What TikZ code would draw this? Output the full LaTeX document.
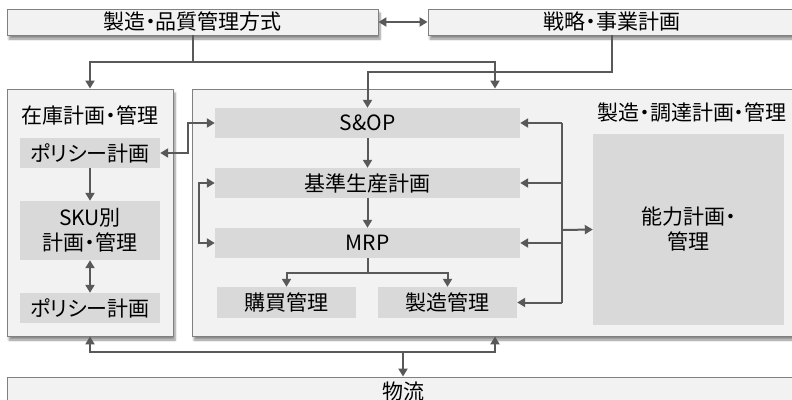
\documentclass[tikz,border=0pt]{standalone}
\usepackage{fontspec}
\setmainfont{Noto Sans CJK JP}[RawFeature=+palt]
\usetikzlibrary{arrows.meta,shadows.blur}
\definecolor{panelfill}{HTML}{F2F2F2}
\definecolor{panelline}{HTML}{808080}
\definecolor{innerfill}{HTML}{D9D9D9}
\definecolor{arrowc}{HTML}{595959}
\tikzset{
  txt/.style={font=\fontsize{21}{25}\selectfont, align=center, text=black},
  panel/.style={txt, draw=panelline, line width=0.9pt, fill=panelfill, inner sep=0pt,
    blur shadow={shadow xshift=2pt, shadow yshift=-4pt, shadow blur steps=6, shadow opacity=45}},
  innerbox/.style={txt, fill=innerfill, inner sep=0pt},
  tip/.tip={Triangle[width=9pt,length=8pt]},
  conn/.style={draw=arrowc, line width=2pt, -tip},
  conn2/.style={draw=arrowc, line width=2pt, tip-tip},
  plain/.style={draw=arrowc, line width=2pt},
}
\begin{document}
\begin{tikzpicture}[x=1pt,y=-1pt]
\useasboundingbox (0,0) rectangle (792,399);
\clip (0,0) rectangle (792,399);
% outer boxes
\node[panel, minimum width=371pt, minimum height=26pt] (top1) at (192.5,22) {製造・品質管理方式};
\node[panel, minimum width=368pt, minimum height=26pt] (top2) at (612,22) {戦略・事業計画};
\node[panel, minimum width=166pt, minimum height=247pt] (lp) at (90,212.5) {};
\node[panel, minimum width=606pt, minimum height=247pt] (mp) at (495,212.5) {};
\node[panel, minimum width=792pt, minimum height=30pt] (log) at (403,392) {物流};
% titles
\node[txt] (invtitle) at (90,115) {在庫計画・管理};
\node[txt] (mfgtitle) at (692,113) {製造・調達計画・管理};
% inventory panel
\node[innerbox, minimum width=140pt, minimum height=30pt] (pol1) at (90,153) {ポリシー計画};
\node[innerbox, minimum width=140pt, minimum height=59pt] (sku) at (90,230.5) {SKU別\\計画・管理};
\node[innerbox, minimum width=140pt, minimum height=30pt] (pol2) at (90,308) {ポリシー計画};
% main panel
\node[innerbox, minimum width=305pt, minimum height=30pt] (sop) at (367.5,123) {S\&OP};
\node[innerbox, minimum width=305pt, minimum height=30pt] (mps) at (367.5,183) {基準生産計画};
\node[innerbox, minimum width=305pt, minimum height=30pt] (mrp) at (367.5,243) {MRP};
\node[innerbox, minimum width=139pt, minimum height=31pt] (pur) at (286.5,302.5) {購買管理};
\node[innerbox, minimum width=139pt, minimum height=31pt] (prod) at (447.5,302.5) {製造管理};
\node[innerbox, minimum width=191pt, minimum height=191pt] (cap) at (688.5,229.5) {能力計画・\\管理};
% top connectors
\draw[conn2] (top1.east) -- (top2.west);
\coordinate (j1) at (192.5,62);
\draw[conn] (top1.south) -- (j1) -| (lp.north);
\draw[conn] (j1) -| (mp.north);
\draw[conn] (top2.south) |- (367.5,72) -- (sop.north);
% inventory <-> S&OP
\draw[conn2] (pol1.east) -- (188,153) |- (sop.west);
\draw[conn] (pol1.south) -- (sku.north);
\draw[conn2] (sku.south) -- (pol2.north);
% main flow
\draw[conn] (sop.south) -- (mps.north);
\draw[conn] (mps.south) -- (mrp.north);
\draw[conn2] (mps.west) -- (199,183) |- (mrp.west);
\coordinate (j2) at (367.5,273);
\draw[plain] (mrp.south) -- (j2);
\draw[conn] (j2) -| (pur.north);
\draw[conn] (j2) -| (prod.north);
% right bus
\coordinate (bus) at (562,230);
\draw[plain] (562,123) -- (562,302.5);
\draw[conn] (562,123) -- (sop.east);
\draw[conn] (562,183) -- (mps.east);
\draw[conn] (562,243) -- (mrp.east);
\draw[conn] (562,302.5) -- (prod.east);
\draw[conn] (bus) -- (cap.west);
% bottom
\coordinate (j3) at (403,352);
\draw[conn] (j3) -| (lp.south);
\draw[conn] (j3) -| (mp.south);
\draw[conn] (j3) -- (log.north);
\end{tikzpicture}
\end{document}
